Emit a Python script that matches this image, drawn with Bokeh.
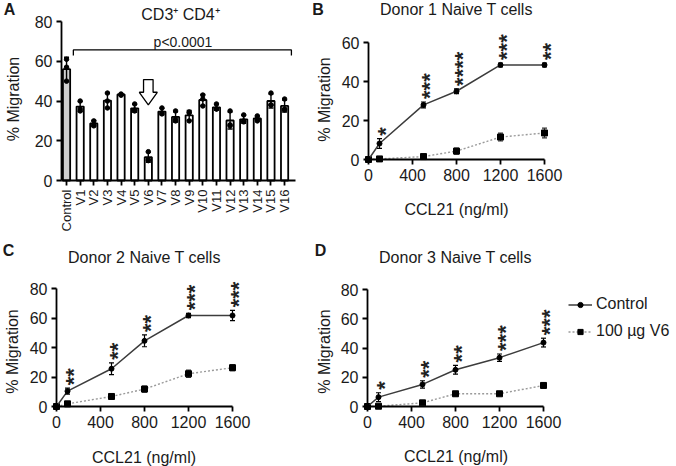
import numpy as np
from bokeh.plotting import figure
from bokeh.models import Range1d, FixedTicker, Label, Legend, LegendItem, LinearAxis
from bokeh.layouts import row, column
from bokeh.embed import file_html
from bokeh.resources import INLINE

FONT = "Liberation Sans"
TXT = "#1a1a1a"

# ---------------- data: panel A ----------------
categories = ["Control", "V1", "V2", "V3", "V4", "V5", "V6", "V7", "V8",
              "V9", "V10", "V11", "V12", "V13", "V14", "V15", "V16"]
a_mean = [56.0, 37.2, 28.7, 40.2, 43.3, 36.3, 11.7, 34.7, 32.0, 32.8,
          40.5, 36.8, 30.2, 30.8, 31.2, 40.0, 37.5]
a_sd = [6.0, 2.5, 1.5, 3.8, 0.3, 2.0, 2.6, 1.6, 2.6, 2.4,
        2.8, 1.4, 4.3, 2.0, 1.2, 3.5, 3.0]
a_rep1 = [61.0, 40.0, 30.0, 44.0, 43.5, 38.5, 14.5, 36.5, 35.0, 34.5,
          43.0, 38.5, 35.0, 33.0, 32.5, 44.0, 41.0]
a_rep2 = [57.0, 36.0, 28.0, 40.0, 43.0, 35.5, 10.5, 34.0, 31.0, 34.0,
          41.0, 36.0, 28.0, 30.0, 31.0, 38.0, 36.0]
a_rep3 = [50.0, 35.0, 27.5, 36.5, 43.0, 35.0, 10.0, 33.5, 30.0, 30.0,
          37.5, 36.0, 27.5, 29.5, 30.0, 38.0, 35.5]
a_title = "CD3\u207a CD4\u207a"
a_pvalue = "p<0.0001"
a_yticks = [0, 20, 40, 60, 80]
a_highlight = "V6"

# ---------------- data: panels B-D ----------------
ccl21 = [0, 100, 500, 800, 1200, 1600]
x_ticks = [0, 400, 800, 1200, 1600]

d1_title = "Donor 1 Naive T cells"
d1_ctrl = [0.0, 8.2, 28.0, 35.0, 48.5, 48.5]
d1_ctrl_err = [0.0, 2.5, 1.5, 1.2, 1.0, 1.0]
d1_v6 = [0.0, 0.3, 1.5, 4.3, 11.5, 13.6]
d1_v6_err = [0.0, 0.3, 0.5, 1.5, 2.0, 2.5]
d1_stars = ["", "*", "***", "****", "***", "**"]
d1_yticks = [0, 20, 40, 60]

d2_title = "Donor 2 Naive T cells"
d2_ctrl = [0.0, 10.4, 25.6, 44.5, 61.7, 61.7]
d2_ctrl_err = [0.0, 2.0, 4.0, 4.0, 1.5, 3.5]
d2_v6 = [0.0, 1.8, 6.8, 11.8, 22.2, 26.3]
d2_v6_err = [0.0, 1.0, 0.5, 2.0, 2.5, 2.0]
d2_stars = ["", "**", "**", "**", "***", "***"]
d2_yticks = [0, 20, 40, 60, 80]

d3_title = "Donor 3 Naive T cells"
d3_ctrl = [0.0, 6.4, 15.1, 25.1, 33.4, 43.7]
d3_ctrl_err = [0.0, 3.0, 2.5, 3.0, 2.5, 3.0]
d3_v6 = [0.0, 0.2, 2.5, 8.7, 8.7, 14.4]
d3_v6_err = [0.0, 0.3, 0.5, 1.5, 1.0, 1.5]
d3_stars = ["", "*", "**", "**", "***", "***"]
d3_yticks = [0, 20, 40, 60, 80]

series_names = ["Control", "100 \u00b5g V6"]
x_label = "CCL21 (ng/ml)"
y_label = "% Migration"


class Geom:
    """Figure of size w x h whose frame fills it; the axis box sits at
    (left, top, bw, bh) in figure pixels and spans data xr, yr."""

    def __init__(self, w, h, left, top, bw, bh, xr, yr):
        self.w, self.h = w, h
        self.xr, self.yr = xr, yr
        self.px = bw / (xr[1] - xr[0])
        self.py = bh / (yr[1] - yr[0])
        self.X0 = xr[0] - left / self.px
        self.X1 = self.X0 + w / self.px
        self.Y0 = yr[0] - (h - top - bh) / self.py
        self.Y1 = self.Y0 + h / self.py

    def data(self, fx, fy):
        return self.X0 + fx / self.px, self.Y0 + (self.h - fy) / self.py


def make_fig(g, xticks, yticks):
    p = figure(width=g.w, height=g.h, x_range=Range1d(g.X0, g.X1), y_range=Range1d(g.Y0, g.Y1),
               toolbar_location=None, output_backend="svg",
               x_axis_location=None, y_axis_location=None, min_border=0)
    p.title.visible = False
    p.outline_line_color = None
    for gr in p.grid:
        gr.visible = False
    p.background_fill_color = "white"
    p.border_fill_color = "white"
    yax = LinearAxis(fixed_location=g.xr[0], bounds=g.yr, ticker=FixedTicker(ticks=yticks))
    xax = LinearAxis(fixed_location=g.yr[0], bounds=g.xr, ticker=FixedTicker(ticks=xticks))
    for ax in (xax, yax):
        ax.axis_line_width = 1.8
        ax.axis_line_color = "black"
        ax.major_tick_line_width = 1.8
        ax.major_tick_line_color = "black"
        ax.major_tick_out = 5
        ax.major_tick_in = 0
        ax.minor_tick_line_color = None
        ax.major_label_text_font = FONT
        ax.major_label_text_font_size = "16px"
        ax.major_label_text_color = TXT
        ax.major_label_standoff = 4
    p.add_layout(yax, "left")
    p.add_layout(xax, "below")
    return p, xax, yax


def add_label(p, g, fx, fy, text, size="16px", bold=False, angle=0.0):
    x, y = g.data(fx, fy)
    p.add_layout(Label(x=x, y=y, text=text, text_font=FONT, text_font_size=size,
                       text_font_style="bold" if bold else "normal", angle=angle,
                       angle_units="rad", text_color=TXT, text_align="center",
                       text_baseline="middle"))


# ---------------- panel A ----------------
gA = Geom(312, 236, 61, 21, 234, 159, (-0.37, 16.8), (0, 80))
idx = list(range(len(categories)))
pA, axA, ayA = make_fig(gA, idx, a_yticks)
fills = ["#cfcfcf" if c == "Control" else "white" for c in categories]
pA.vbar(x=idx, top=a_mean, bottom=0, width=0.53, fill_color=fills,
        line_color="black", line_width=1.8)
lo = [m - s for m, s in zip(a_mean, a_sd)]
hi = [m + s for m, s in zip(a_mean, a_sd)]
pA.segment(x0=idx, y0=lo, x1=idx, y1=hi, line_color="black", line_width=1.4)
pA.scatter(x=idx + idx, y=lo + hi, marker="dash", size=5, line_color="black", line_width=1.4)
for reps in (a_rep1, a_rep2, a_rep3):
    pA.scatter(x=idx, y=reps, marker="circle", size=4.5, fill_color="black", line_color="black")
axA.major_label_overrides = {i: c for i, c in enumerate(categories)}
axA.major_label_orientation = np.pi / 2
axA.major_label_text_font_size = "13px"
# bracket with p-value over V1..V16
b_y = 65.7
b_drop = 2.8
pA.line(x=[0.5, 0.5, len(categories) - 0.5, len(categories) - 0.5],
        y=[b_y - b_drop, b_y, b_y, b_y - b_drop], line_color="black", line_width=1.3)
add_label(pA, gA, 182.5, 41, a_pvalue, size="14px")
# open arrow pointing to V6
hx = categories.index(a_highlight)
ax_top, ax_neck, ax_tip = 50.8, 44.4, 38.1
sw, hw = 0.35, 0.66
pA.patch(x=[hx - sw, hx + sw, hx + sw, hx + hw, hx, hx - hw, hx - sw],
         y=[ax_top, ax_top, ax_neck, ax_neck, ax_tip, ax_neck, ax_neck],
         fill_color="white", line_color="black", line_width=1.3)
add_label(pA, gA, 180, 13.5, a_title)
add_label(pA, gA, 9, 9, "A", bold=True)
add_label(pA, gA, 12.5, 98.5, y_label, angle=np.pi / 2)


# ---------------- panels B-D ----------------
def line_panel(g, letter, title, ctrl, ctrl_err, v6, v6_err, stars, yticks,
               letter_pos, title_pos, ylab_pos, xlab_pos, legend_loc=None):
    p, xax, yax = make_fig(g, x_ticks, yticks)
    r_v6_line = p.line(x=ccl21, y=v6, line_color="#9a9a9a", line_width=1.4, line_dash="2 2")
    v_lo = [a - b for a, b in zip(v6, v6_err)]
    v_hi = [a + b for a, b in zip(v6, v6_err)]
    p.segment(x0=ccl21, y0=v_lo, x1=ccl21, y1=v_hi, line_color="#333333", line_width=1.2)
    p.scatter(x=ccl21 + ccl21, y=v_lo + v_hi, marker="dash", size=5, line_color="#333333", line_width=1.2)
    r_v6_pts = p.scatter(x=ccl21, y=v6, marker="square", size=6, fill_color="black", line_color="black")
    r_c_line = p.line(x=ccl21, y=ctrl, line_color="#3c3c3c", line_width=1.5)
    c_lo = [a - b for a, b in zip(ctrl, ctrl_err)]
    c_hi = [a + b for a, b in zip(ctrl, ctrl_err)]
    p.segment(x0=ccl21, y0=c_lo, x1=ccl21, y1=c_hi, line_color="black", line_width=1.2)
    p.scatter(x=ccl21 + ccl21, y=c_lo + c_hi, marker="dash", size=5, line_color="black", line_width=1.2)
    r_c_pts = p.scatter(x=ccl21, y=ctrl, marker="circle", size=5, fill_color="black", line_color="black")
    for xv, top, s in zip(ccl21, c_hi, stars):
        if s:
            p.add_layout(Label(x=xv + 5.5 / g.px, y=top + 3 / g.py, text=s,
                               angle=np.pi / 2, angle_units="rad", text_font=FONT,
                               text_font_size="22px", text_font_style="bold", text_color="#222222",
                               text_align="left", text_baseline="middle"))
    add_label(p, g, title_pos[0], title_pos[1], title)
    add_label(p, g, letter_pos[0], letter_pos[1], letter, bold=True)
    add_label(p, g, ylab_pos[0], ylab_pos[1], y_label, angle=np.pi / 2)
    add_label(p, g, xlab_pos[0], xlab_pos[1], x_label)
    if legend_loc is not None:
        lg = Legend(items=[LegendItem(label=series_names[0], renderers=[r_c_line, r_c_pts]),
                           LegendItem(label=series_names[1], renderers=[r_v6_line, r_v6_pts])],
                    location=legend_loc, padding=5, margin=0, spacing=7,
                    label_height=20, glyph_height=13, glyph_width=24, label_standoff=4,
                    label_text_font=FONT, label_text_font_size="16px", label_text_color=TXT,
                    border_line_color=None, background_fill_alpha=0)
        p.add_layout(lg)
    return p


gB = Geom(364, 236, 56, 42, 176, 117, (0, 1600), (0, 60))
pB = line_panel(gB, "B", d1_title, d1_ctrl, d1_ctrl_err, d1_v6, d1_v6_err, d1_stars, d1_yticks,
                (5.5, 9), (144, 9), (11.5, 99), (144, 209))
gC = Geom(312, 230, 56, 52, 176, 118, (0, 1600), (0, 80))
pC = line_panel(gC, "C", d2_title, d2_ctrl, d2_ctrl_err, d2_v6, d2_v6_err, d2_stars, d2_yticks,
                (8, 14), (144, 21), (12, 115), (143.5, 220.5))
gD = Geom(364, 230, 55, 53, 176, 117, (0, 1600), (0, 80))
pD = line_panel(gD, "D", d3_title, d3_ctrl, d3_ctrl_err, d3_v6, d3_v6_err, d3_stars, d3_yticks,
                (8, 14), (143, 21), (11.5, 115), (143.5, 219.5), legend_loc=(256, 125))

layout = column(row(pA, pB), row(pC, pD))
open("out.html", "w").write(file_html(layout, INLINE))
